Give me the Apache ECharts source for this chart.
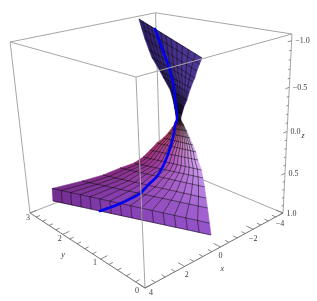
<!DOCTYPE html>
<html><head><meta charset="utf-8">
<style>html,body{margin:0;padding:0;background:#fff}#c{width:317px;height:301px}</style>
<script src="https://cdn.jsdelivr.net/npm/echarts@6/dist/echarts.min.js"></script></head>
<body><div id="c"></div>
<script>
// surface rulings: each level runs from a left to a right boundary point
const lowZ      = [0.797,0.650,0.468,0.350,0.220,0.116,0.025,-0.095,-0.186,-0.269,-0.350,-0.430,-0.499,-0.557,-0.594];
const lowXLeft  = [3.37,3.30,2.73,2.31,2.04,1.89,1.77,1.83,1.74,1.77,1.84,1.94,2.00,2.16,1.97];
const lowYLeft  = [2.60,2.63,2.04,1.68,1.365,1.09,0.93,0.74,0.63,0.48,0.35,0.23,0.14,0.04,0.14];
const lowXRight = [0.55,0.64,0.75,0.83,0.91,0.99,1.07,1.25,1.35,1.50,1.65,1.79,1.93,2.07,2.05];
const lowYRight = [0,0,0,0,0,0,0,0,0,0,0,0,0,0,0];
const upZ      = [-0.594,-0.670,-0.728,-0.788,-0.830,-0.880,-0.911,-0.971,-1.018,-1.035];
const upXLeft  = [1.97,1.63,1.36,0.90,0.79,0.08,-0.40,-0.98,-1.73,-2.93];
const upYLeft  = [0.14,0.32,0.48,0.81,0.92,1.39,1.66,2.00,2.40,3.00];
const upXRight = [2.05,1.92,1.77,1.67,1.58,1.47,1.38,1.28,1.04,0.56];
const upYRight = [0,0,0,0,0,0,0,0,0.04,0.17];
// thick blue curve
const blueX = [-1.83,-0.09,0.71,1.21,1.69,1.98,2.16,2.00,1.79,1.60,1.50,1.52,1.63,1.76,2.06,2.45];
const blueY = [2.11,1.214,0.758,0.48,0.25,0.115,0.04,0.13,0.256,0.40,0.567,0.74,0.905,1.04,1.40,1.755];
const blueZ = [-1.035,-0.971,-0.88,-0.788,-0.67,-0.594,-0.557,-0.50,-0.35,-0.186,0.025,0.22,0.35,0.468,0.65,0.797];
// axes
const xRange = [-4,4], yRange = [0,3], zRange = [-1.07,1];
const xTicks = [-4,-3.5,-3,-2.5,-2,-1.5,-1,-0.5,0,0.5,1,1.5,2,2.5,3,3.5,4];
const xLabels = ['\u22124','\u22122','0','2','4'];
const xLabelValues = [-4,-2,0,2,4];
const yTicks = [0,0.2,0.4,0.6,0.8,1,1.2,1.4,1.6,1.8,2,2.2,2.4,2.6,2.8,3];
const yLabels = ['0','1','2','3'];
const yLabelValues = [0,1,2,3];
const zTicks = [-1,-0.9,-0.8,-0.7,-0.6,-0.5,-0.4,-0.3,-0.2,-0.1,0,0.1,0.2,0.3,0.4,0.5,0.6,0.7,0.8,0.9,1];
const zLabels = ['\u22121.0','\u22120.5','0.0','0.5','1.0'];
const zLabelValues = [-1,-0.5,0,0.5,1];

// perspective camera
const cam = {A:[145,288],B:[283,213],C:[30,213],D:[136,77],al:0.2094,be:0.26,ga:-0.1275};
function proj(x,y,z){
  const u=(xRange[1]-x)/(xRange[1]-xRange[0]), v=(y-yRange[0])/(yRange[1]-yRange[0]), w=(zRange[1]-z)/(zRange[1]-zRange[0]);
  const r=[0,1].map(i=>{
    const a=cam.B[i]*(1+cam.al)-cam.A[i], b=cam.C[i]*(1+cam.be)-cam.A[i], c=cam.D[i]*(1+cam.ga)-cam.A[i];
    return cam.A[i]+a*u+b*v+c*w;
  });
  const d=1+cam.al*u+cam.be*v+cam.ga*w;
  return [r[0]/d,r[1]/d];
}
function mix(a,b,t){return a.map((v,i)=>v+(b[i]-v)*t);}
function css(c){return 'rgb('+c.map(Math.round).join(',')+')';}
function stops(r,a,b,c){return r<0.45?mix(a,b,r/0.45):mix(b,c,(r-0.45)/0.55);}
function lowColor(r,f){ // r 0 bottom .. 1 neck, f 0 left .. 1 right
  const left = stops(r,[112,45,146],[150,40,112],[206,88,72]);
  const mid  = stops(r,[128,60,176],[168,72,176],[204,104,96]);
  const right= stops(r,[146,78,200],[214,168,250],[230,214,224]);
  return css(f<0.42?mix(left,mid,f/0.42):mix(mid,right,(f-0.42)/0.58));
}
function upColor(r,f){ // r 0 neck .. 1 top
  const c=mix([44,30,104],[76,52,146],Math.min(1,f*1.3));
  return css(mix([28,18,66],c,Math.min(1,r*3)));
}
function pt(api,p){return api.coord(p);}
function rowPoint(zs,xl,yl,xr,yr,j,f){return proj(xl[j]+(xr[j]-xl[j])*f,yl[j]+(yr[j]-yl[j])*f,zs[j]);}

function surface(api,zs,xl,yl,xr,yr,cols,colorFn){
  const ch=[]; const n=zs.length;
  for(let j=0;j<n-1;j++)for(let i=0;i<cols;i++){
    const f0=i/cols,f1=(i+1)/cols;
    const pts=[rowPoint(zs,xl,yl,xr,yr,j,f0),rowPoint(zs,xl,yl,xr,yr,j,f1),rowPoint(zs,xl,yl,xr,yr,j+1,f1),rowPoint(zs,xl,yl,xr,yr,j+1,f0)].map(p=>pt(api,p));
    const col=colorFn((j+0.5)/(n-1),(i+0.5)/cols);
    ch.push({type:'polygon',shape:{points:pts},style:{fill:col,stroke:col,lineWidth:0.5}});
  }
  const ls={stroke:'rgba(0,0,0,0.75)',lineWidth:0.7,fill:null};
  for(let j=0;j<n;j++){
    ch.push({type:'polyline',shape:{points:[rowPoint(zs,xl,yl,xr,yr,j,0),rowPoint(zs,xl,yl,xr,yr,j,1)].map(p=>pt(api,p))},style:ls});
  }
  for(let i=1;i<cols;i++){
    const a=[];for(let j=0;j<n;j++)a.push(pt(api,rowPoint(zs,xl,yl,xr,yr,j,i/cols)));
    ch.push({type:'polyline',shape:{points:a},style:ls});
  }
  return {type:'group',children:ch};
}
function seg(api,a,b,stroke,w){
  const p=pt(api,proj(...a)),q=pt(api,proj(...b));
  return {type:'line',shape:{x1:p[0],y1:p[1],x2:q[0],y2:q[1]},style:{stroke:stroke,lineWidth:w||1}};
}
const [x0,x1]=xRange,[y0,y1]=yRange,[zt,zb]=zRange;
const boxGrey='#a6a6a6';
function backBox(api){
  return {type:'group',children:[
    seg(api,[x1,y1,zt],[x0,y1,zt],boxGrey),seg(api,[x0,y1,zt],[x0,y0,zt],boxGrey),
    seg(api,[x0,y1,zt],[x0,y1,zb],boxGrey),
    seg(api,[x1,y1,zb],[x0,y1,zb],boxGrey),seg(api,[x0,y0,zb],[x0,y1,zb],boxGrey),
    seg(api,[x0,y0,zt],[x0,y0,zb],boxGrey),seg(api,[x1,y1,zt],[x1,y1,zb],boxGrey)
  ]};
}
function frontBox(api){
  const dark='#707070',ch=[
    seg(api,[x1,y1,zt],[x1,y0,zt],boxGrey),seg(api,[x1,y0,zt],[x0,y0,zt],boxGrey),
    seg(api,[x1,y0,zt],[x1,y0,zb],boxGrey),
    seg(api,[x1,y0,zb],[x0,y0,zb],dark),seg(api,[x1,y0,zb],[x1,y1,zb],dark)
  ];
  xTicks.forEach(t=>{const m=xLabelValues.includes(t);ch.push(seg(api,[t,y0,zb],[t,m?0.14:0.08,zb],dark,0.8));});
  yTicks.forEach(t=>{const m=yLabelValues.includes(t);ch.push(seg(api,[x1,t,zb],[m?3.65:3.8,t,zb],dark,0.8));});
  zTicks.forEach(t=>{const m=zLabelValues.includes(t);ch.push(seg(api,[x0,y0,t],[m?-3.75:-3.87,y0,t],dark,0.8));});
  const txt=(s,p,align,italic)=>{const c=pt(api,p);return {type:'text',style:{text:s,x:c[0],y:c[1],align:align||'center',verticalAlign:'middle',fill:'#3c3c3c',font:(italic?'italic ':'')+'8px "Liberation Serif"'}};};
  const add=(p,dx,dy)=>[p[0]+dx,p[1]+dy];
  const xOff=[[-3,11],[0,10],[0,9],[2,8],[6,5]];
  xLabelValues.forEach((t,i)=>ch.push(txt(xLabels[i],add(proj(t,y0,zb),xOff[i][0],xOff[i][1]))));
  const yOff=[[-8,3],[-5.5,4],[-3,5],[-2,5]];
  yLabelValues.forEach((t,i)=>ch.push(txt(yLabels[i],add(proj(x1,t,zb),yOff[i][0],yOff[i][1]))));
  zLabelValues.forEach((t,i)=>ch.push(txt(zLabels[i],add(proj(x0,y0,t),3.5,0.5),'left')));
  ch.push(txt('x',add(proj(-0.1,y0,zb),0,23),'center',true));
  ch.push(txt('y',add(proj(x1,1.55,zb),-16,10),'center',true));
  ch.push(txt('z',add(proj(x0,y0,0),16,4),'center',true));
  return {type:'group',children:ch};
}
function custom(fn,z){return {type:'custom',coordinateSystem:'cartesian2d',data:[[0,0]],z:z,silent:true,clip:false,renderItem:(p,api)=>fn(api)};}
const chart=echarts.init(document.getElementById('c'),null,{renderer:'canvas'});
chart.setOption({
  animation:false,backgroundColor:'#fff',
  grid:{left:0,right:0,top:0,bottom:0},
  xAxis:{type:'value',min:0,max:317,show:false},
  yAxis:{type:'value',min:0,max:301,inverse:true,show:false},
  series:[
    custom(backBox,1),
    custom(api=>surface(api,upZ,upXLeft,upYLeft,upXRight,upYRight,12,upColor),2),
    custom(api=>surface(api,lowZ,lowXLeft,lowYLeft,lowXRight,lowYRight,15,lowColor),3),
    custom(api=>({type:'polyline',shape:{smooth:0.3,points:blueX.map((x,i)=>pt(api,proj(x,blueY[i],blueZ[i])))},style:{stroke:'#0000f0',lineWidth:2.6,fill:null,lineCap:'round'}}),4),
    custom(frontBox,5)
  ]
});
</script></body></html>
